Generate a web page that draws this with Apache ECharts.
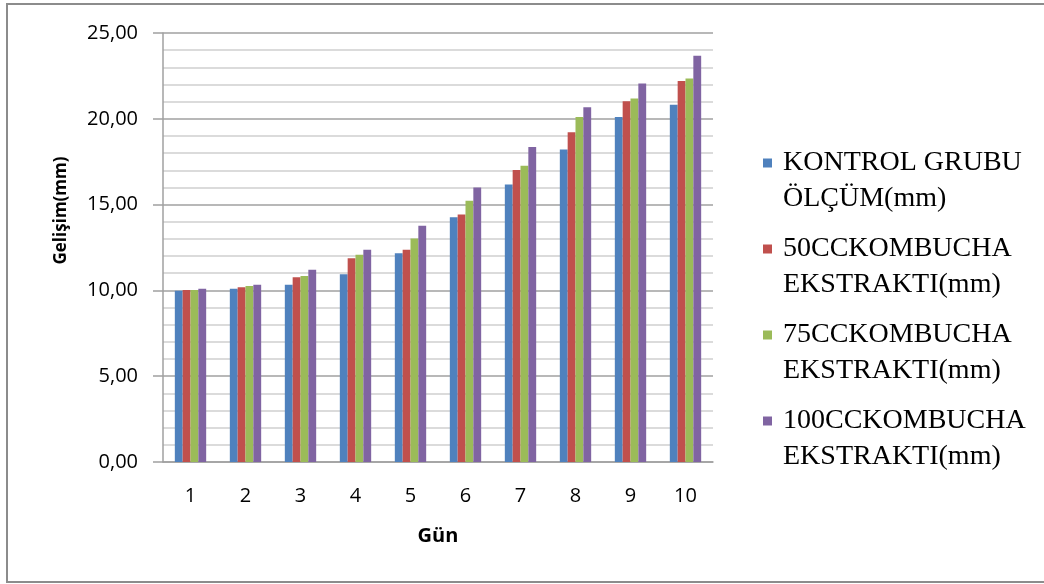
<!DOCTYPE html>
<html>
<head>
<meta charset="utf-8">
<script src="https://cdn.jsdelivr.net/npm/echarts@6/dist/echarts.min.js"></script>
<style>
  html, body { margin: 0; padding: 0; background: #fff; }
  #chart { width: 1044px; height: 584px; }
</style>
</head>
<body>
<div id="chart"></div>
<script>
var days = ['1', '2', '3', '4', '5', '6', '7', '8', '9', '10'];
var seriesNames = [
  'KONTROL GRUBU\nÖLÇÜM(mm)',
  '50CCKOMBUCHA\nEKSTRAKTI(mm)',
  '75CCKOMBUCHA\nEKSTRAKTI(mm)',
  '100CCKOMBUCHA\nEKSTRAKTI(mm)'
];
var kontrol = [9.98, 10.10, 10.33, 10.94, 12.16, 14.26, 16.17, 18.21, 20.10, 20.82];
var cc50 = [10.02, 10.18, 10.76, 11.87, 12.37, 14.42, 17.02, 19.22, 21.03, 22.20];
var cc75 = [10.02, 10.26, 10.84, 12.08, 13.02, 15.22, 17.26, 20.10, 21.19, 22.35];
var cc100 = [10.10, 10.33, 11.21, 12.37, 13.77, 15.99, 18.35, 20.68, 22.06, 23.68];
var colors = ['#4f81bd', '#c0504d', '#9bbb59', '#8064a2'];

var chart = echarts.init(document.getElementById('chart'));

// bar serileri
var values = [kontrol, cc50, cc75, cc100];
var series = values.map(function (v, i) {
  return {
    name: seriesNames[i],
    type: 'bar',
    data: v,
    barGap: '0%',
    barCategoryGap: '43%',
    itemStyle: { color: colors[i] }
  };
});

var option = {
  animation: false,
  color: colors,
  grid: { left: 163, right: 331, top: 33, bottom: 122 },
  legend: {
    orient: 'vertical',
    left: 763,
    top: 109,
    padding: 0,
    itemWidth: 9,
    itemHeight: 9,
    itemGap: -22,
    icon: 'rect',
    data: seriesNames,
    // boş ilk satır: kare ilk satırın hizasında dursun
    formatter: function (name) { return '\n' + name; },
    textStyle: {
      fontFamily: 'Liberation Serif',
      fontSize: 28,
      lineHeight: 36,
      color: '#000',
      padding: [0, 0, 0, 6]
    }
  },
  xAxis: {
    type: 'category',
    data: days,
    name: 'Gün',
    nameLocation: 'middle',
    nameGap: 64,
    nameTextStyle: { fontFamily: 'Open Sans', fontWeight: 'bold', fontSize: 20, color: '#000' },
    axisLine: { lineStyle: { color: '#a0a0a0', width: 1.5 } },
    axisTick: { show: false },
    axisLabel: { fontFamily: 'Open Sans', fontSize: 20, color: '#000', margin: 24 }
  },
  yAxis: {
    type: 'value',
    min: 0,
    max: 25,
    interval: 5,
    name: 'Gelişim(mm)',
    nameLocation: 'middle',
    nameGap: 93,
    nameTextStyle: {
      fontFamily: 'Open Sans', fontWeight: 'bold', fontSize: 17, color: '#000',
      padding: [0, 0, 0, 74]
    },
    axisLine: { show: true, lineStyle: { color: '#a0a0a0', width: 1.5 } },
    axisTick: { show: true, length: 10, lineStyle: { color: '#a0a0a0', width: 1.5 } },
    axisLabel: {
      fontFamily: 'Open Sans', fontSize: 20, color: '#000', margin: 25,
      formatter: function (v) { return v.toFixed(2).replace('.', ','); }
    },
    splitLine: { lineStyle: { color: '#a0a0a0', width: 1.5 } },
    minorTick: { show: false, splitNumber: 5 },
    minorSplitLine: { show: true, lineStyle: { color: '#cfcfcf', width: 1.5 } }
  },
  graphic: [{
    type: 'rect',
    shape: { x: 7, y: 4, width: 1050, height: 578 },
    style: { fill: null, stroke: '#8c8c8c', lineWidth: 2 },
    silent: true
  }],
  series: series
};

chart.setOption(option);
</script>
</body>
</html>
